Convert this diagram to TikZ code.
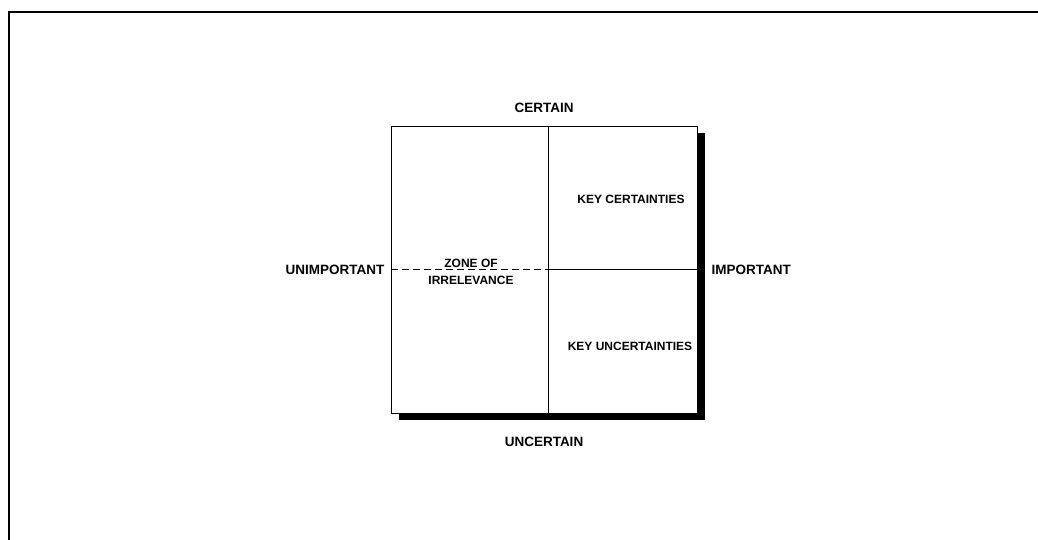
\documentclass[tikz,border=0pt]{standalone}
\usepackage{fontspec}
\setmainfont{Liberation Sans}
\usetikzlibrary{positioning}
\usetikzlibrary{calc}
\tikzset{
  % captions on the four sides of the grid
  axislbl/.style={font=\bfseries\fontsize{13.5}{15}\selectfont, inner sep=0pt},
  % captions inside the quadrants
  celllbl/.style={font=\bfseries\fontsize{12}{16.5}\selectfont, align=center, inner sep=0pt},
  % the 2x2 grid and its drop shadow
  gridbox/.style={draw=black, fill=white, line width=0.9pt, inner sep=0pt,
    minimum width=306pt, minimum height=287pt},
  shadowbox/.style={draw=none, fill=black, inner sep=0pt,
    minimum width=306pt, minimum height=287pt},
  divider/.style={draw=black, line width=0.8pt},
  frame/.style={draw=black, line width=1.6pt},
}

\begin{document}
\begin{tikzpicture}[x=1pt, y=-1pt]
  \useasboundingbox (0,0) rectangle (1038,540);

  % open page frame
  \draw[frame] (9,540) -- (9,12) -- (1038,12);

  \node[shadowbox] (shade) at (552,276.5) {};
  \node[gridbox]   (grid)  at (544,269.5) {};

  \coordinate (mid) at ($(grid.center)+(4,0)$);
  \draw[divider] ($(grid.north)+(4,0)$) -- ($(grid.south)+(4,0)$);
  \draw[divider, line width=1.3pt, dash pattern=on 7pt off 4pt] (grid.west) -- (mid);
  \draw[divider] (mid) -- (grid.east);

  \node[axislbl, above=13pt of grid]  (cert)   {CERTAIN};
  \node[axislbl, below=23pt of grid]  (uncert) {UNCERTAIN};
  \node[axislbl, left=6pt of grid]    (unimp)  {UNIMPORTANT};
  \node[axislbl, right=14pt of grid]  (imp)    {IMPORTANT};

  \node[celllbl] (keycert)   at (631,199) {KEY CERTAINTIES};
  \node[celllbl] (keyuncert) at (630,346) {KEY UNCERTAINTIES};
  \node[celllbl] (zone)      at (471,272) {ZONE OF\\IRRELEVANCE};

\end{tikzpicture}
\end{document}
